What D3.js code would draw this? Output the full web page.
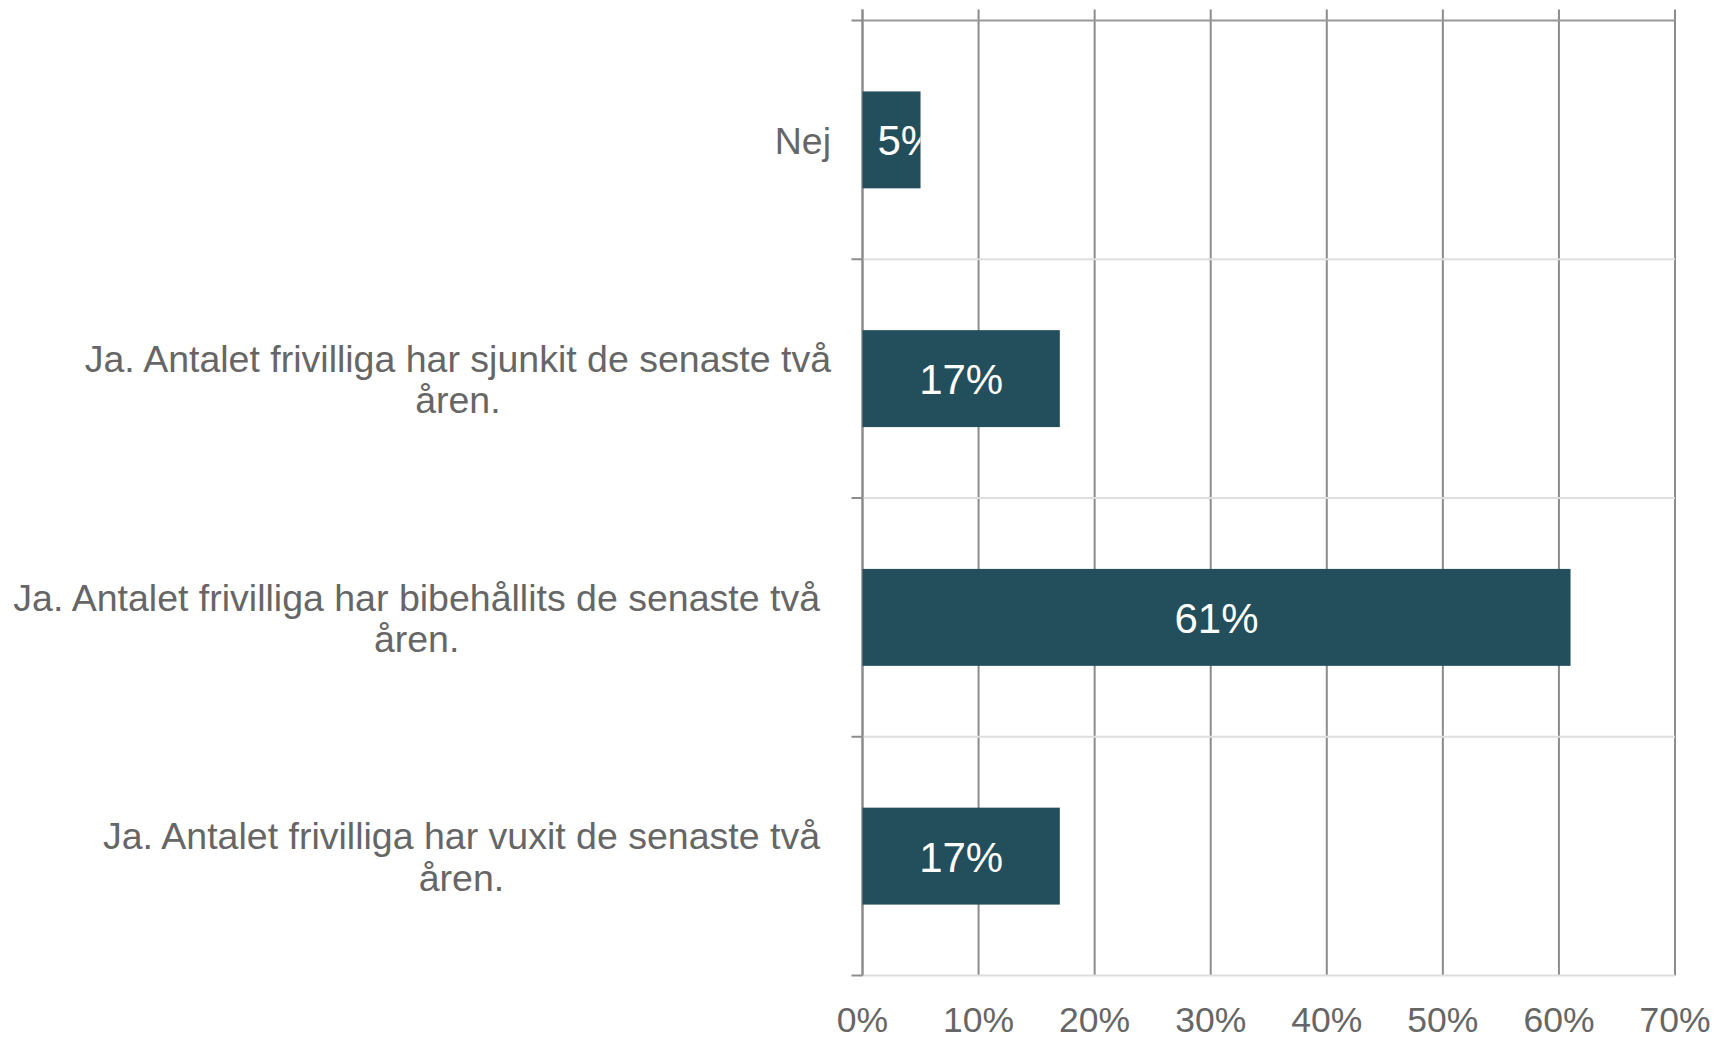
<!DOCTYPE html>
<meta charset="utf-8">
<head>
  <title>Frivilliga</title>
  <style>
    body { margin: 0; background: #fff; }
    text { font-family: Arial, "Liberation Sans", sans-serif; }
  </style>
</head>

<script src="https://d3js.org/d3.v7.min.js"></script>

<div id="my_dataviz"></div>

<script>

// data, top to bottom
var categories = [
  "Nej",
  "Ja. Antalet frivilliga har sjunkit de senaste två åren.",
  "Ja. Antalet frivilliga har bibehållits de senaste två åren.",
  "Ja. Antalet frivilliga har vuxit de senaste två åren."
];
var categoryLines = [
  ["Nej"],
  ["Ja. Antalet frivilliga har sjunkit de senaste två", "åren."],
  ["Ja. Antalet frivilliga har bibehållits de senaste två", "åren."],
  ["Ja. Antalet frivilliga har vuxit de senaste två", "åren."]
];
var values = [5, 17, 61, 17];
var valueLabels = ["5%", "17%", "61%", "17%"];
var xTicks = [0, 10, 20, 30, 40, 50, 60, 70];
var xTickLabels = ["0%", "10%", "20%", "30%", "40%", "50%", "60%", "70%"];

// layout
var W = 1719, H = 1039;
var plot = {left: 862.5, right: 1675, top: 20.5, bottom: 975.5};
var labelRight = 831;
var labelNudge = [0, 0, -11, -11];   // excel puts the last two a bit further left
var barColor = "#234e5b";
var textColor = "#666666";

var svg = d3.select("#my_dataviz")
  .append("svg")
    .attr("width", W)
    .attr("height", H);

var x = d3.scaleLinear()
  .domain([0, 70])
  .range([plot.left, plot.right]);

var y = d3.scaleBand()
  .domain(categories)
  .range([plot.top, plot.bottom])
  .paddingInner(0.594)
  .paddingOuter(0.297);

var step = y.step();

// vertical gridlines
svg.append("g")
  .selectAll("line")
  .data(xTicks)
  .enter().append("line")
    .attr("x1", function(d) { return x(d); })
    .attr("x2", function(d) { return x(d); })
    .attr("y1", plot.top - 11)
    .attr("y2", plot.bottom)
    .attr("stroke", "#8c8c8c")
    .attr("stroke-width", 2);

// category separators
var seps = d3.range(categories.length + 1);
svg.append("g")
  .selectAll("line")
  .data(seps)
  .enter().append("line")
    .attr("x1", plot.left)
    .attr("x2", plot.right)
    .attr("y1", function(i) { return plot.top + i * step; })
    .attr("y2", function(i) { return plot.top + i * step; })
    .attr("stroke", function(i) { return i === 0 ? "#999999" : "#dedede"; })
    .attr("stroke-width", 2);

// little ticks left of the category axis
svg.append("g")
  .selectAll("line")
  .data(seps)
  .enter().append("line")
    .attr("x1", plot.left - 11)
    .attr("x2", plot.left)
    .attr("y1", function(i) { return plot.top + i * step; })
    .attr("y2", function(i) { return plot.top + i * step; })
    .attr("stroke", "#8c8c8c")
    .attr("stroke-width", 2);

// category axis line (0%)
svg.append("line")
  .attr("x1", x(0)).attr("x2", x(0))
  .attr("y1", plot.top - 11).attr("y2", plot.bottom)
  .attr("stroke", "#8c8c8c")
  .attr("stroke-width", 2);

// bars
var bars = svg.append("g");
bars.selectAll("rect")
  .data(values)
  .enter().append("rect")
    .attr("x", x(0))
    .attr("y", function(d, i) { return y(categories[i]); })
    .attr("width", function(d) { return x(d) - x(0); })
    .attr("height", y.bandwidth())
    .attr("fill", barColor);

// clip paths so the labels don't run out of narrow bars
var defs = svg.append("defs");
values.forEach(function(d, i) {
  defs.append("clipPath")
    .attr("id", "clip" + i)
    .append("rect")
      .attr("x", x(0))
      .attr("y", y(categories[i]))
      .attr("width", x(d) - x(0))
      .attr("height", y.bandwidth());
});

values.forEach(function(d, i) {
  var t = svg.append("text")
    .attr("clip-path", "url(#clip" + i + ")")
    .attr("text-anchor", "middle")
    .style("font-size", "42px")
    .style("fill", "#ffffff")
    .text(valueLabels[i]);
  var w = t.node().getComputedTextLength();
  var cx = Math.max((x(0) + x(d)) / 2, x(0) + 15 + w / 2);
  t.attr("x", cx)
   .attr("y", y(categories[i]) + y.bandwidth() / 2 + 15.5);
});

// category labels, centered lines in a right aligned block
var lineH = 41.5;
categoryLines.forEach(function(lines, i) {
  var g = svg.append("text")
    .attr("text-anchor", "middle")
    .style("font-size", "37.5px")
    .style("fill", textColor);
  var cy = y(categories[i]) + y.bandwidth() / 2;
  var first = cy - (lines.length - 1) * lineH / 2 + 14;
  var tspans = lines.map(function(l, k) {
    return g.append("tspan").attr("y", first + k * lineH).text(l);
  });
  var maxW = d3.max(tspans, function(s) { return s.node().getComputedTextLength(); });
  var cx = labelRight + labelNudge[i] - maxW / 2;
  tspans.forEach(function(s) { s.attr("x", cx); });
});

// x tick labels
svg.append("g")
  .selectAll("text")
  .data(xTicks)
  .enter().append("text")
    .attr("x", function(d) { return x(d); })
    .attr("y", 1032)
    .attr("text-anchor", "middle")
    .style("font-size", "35.5px")
    .style("fill", textColor)
    .text(function(d, i) { return xTickLabels[i]; });

</script>
